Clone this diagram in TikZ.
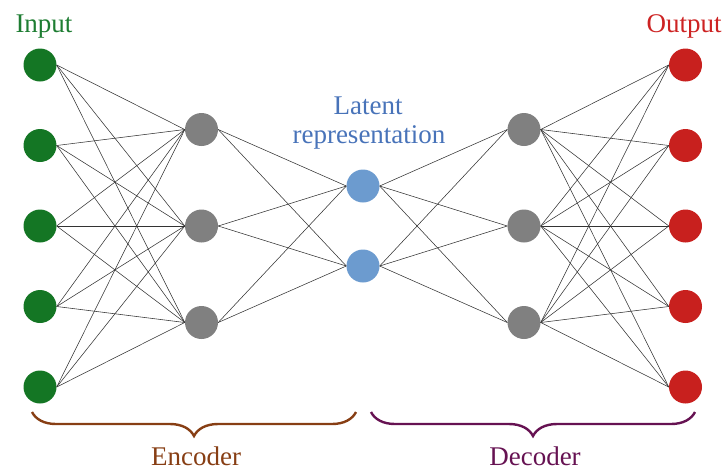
\documentclass[tikz,border=0pt]{standalone}
\usepackage{fontspec}
\setmainfont{Liberation Serif}
\newfontfamily\labelfont{Liberation Serif}
\usetikzlibrary{decorations.pathreplacing}
\definecolor{ingreen}{RGB}{20,118,36}
\definecolor{intext}{RGB}{30,125,50}
\definecolor{hidgray}{RGB}{128,128,128}
\definecolor{latblue}{RGB}{108,155,207}
\definecolor{lattext}{RGB}{72,115,185}
\definecolor{outred}{RGB}{200,32,30}
\definecolor{outtext}{RGB}{205,35,35}
\definecolor{encbrown}{RGB}{135,62,20}
\definecolor{decpurple}{RGB}{102,18,82}
\begin{document}
\begin{tikzpicture}[x=1pt,y=-1pt,
  neuron/.style={circle,minimum size=33pt,inner sep=0pt,draw=none},
  conn/.style={draw=black!80,line width=0.55pt},
  lbl/.style={font=\labelfont\fontsize{27}{29}\selectfont,anchor=base,inner sep=0pt},
  bracestyle/.style={decorate,decoration={brace,mirror,amplitude=24pt},line width=2.4pt}]
\useasboundingbox (0,0) rectangle (727,475);
% input layer
\foreach \y [count=\k] in {65,145.5,226,306.5,387}
  \node[neuron,fill=ingreen] (i\k) at (40,\y) {};
% encoder hidden
\foreach \y [count=\k] in {129.5,226,322.5}
  \node[neuron,fill=hidgray] (h\k) at (201.5,\y) {};
% latent
\foreach \y [count=\k] in {186,266}
  \node[neuron,fill=latblue] (l\k) at (363,\y) {};
% decoder hidden
\foreach \y [count=\k] in {129.5,226,322.5}
  \node[neuron,fill=hidgray] (d\k) at (524,\y) {};
% output layer
\foreach \y [count=\k] in {65,145.5,226,306.5,387}
  \node[neuron,fill=outred] (o\k) at (685.5,\y) {};
% connections
\foreach \i in {1,...,5}
  \foreach \j in {1,2,3}
    \draw[conn] (i\i.east) -- (h\j.west);
\foreach \i in {1,2,3}
  \foreach \j in {1,2}
    \draw[conn] (h\i.east) -- (l\j.west);
\foreach \i in {1,2}
  \foreach \j in {1,2,3}
    \draw[conn] (l\i.east) -- (d\j.west);
\foreach \i in {1,2,3}
  \foreach \j in {1,...,5}
    \draw[conn] (d\i.east) -- (o\j.west);
% labels
\node[lbl,text=intext] (tin) at (44,32) {Input};
\node[lbl,text=outtext] (tout) at (684,32) {Output};
\node[lbl,text=lattext] (tlat1) at (368,114) {Latent};
\node[lbl,text=lattext] (tlat2) at (369,143) {representation};
% braces
\coordinate (eb1) at (32,412);
\coordinate (eb2) at (356,412);
\coordinate (db1) at (371,412);
\coordinate (db2) at (695,412);
\draw[bracestyle,draw=encbrown] (eb1) -- (eb2);
\draw[bracestyle,draw=decpurple] (db1) -- (db2);
\node[lbl,text=encbrown] (tenc) at (196,465) {Encoder};
\node[lbl,text=decpurple] (tdec) at (535,465) {Decoder};
\end{tikzpicture}
\end{document}
